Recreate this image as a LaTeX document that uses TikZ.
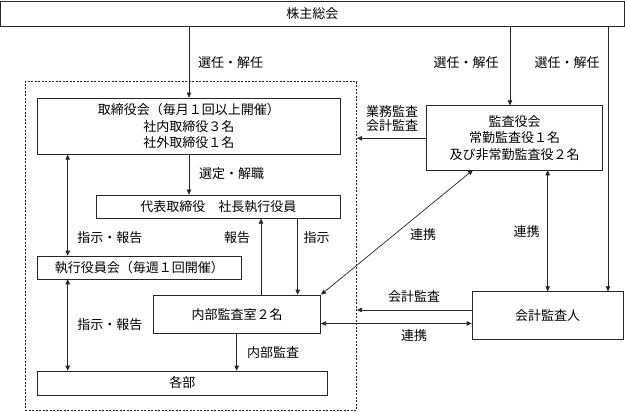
\documentclass[tikz,border=0pt]{standalone}
\usepackage{fontspec}
\setmainfont{Noto Sans CJK JP}
\usetikzlibrary{arrows.meta}
\tikzset{
  box/.style={draw=black!85, line width=0.7pt, inner sep=0pt, align=center, font=\fontsize{13}{16.5}\selectfont},
  lbl/.style={inner sep=0pt, align=center, font=\fontsize{13}{14.5}\selectfont},
  conn/.style={draw=black!85, line width=0.7pt},
  arr/.style={conn, -{Triangle[length=5pt,width=4.5pt]}},
  darr/.style={conn, {Triangle[length=5pt,width=4.5pt]}-{Triangle[length=5pt,width=4.5pt]}},
  grpbox/.style={draw=black!85, line width=0.6pt, dash pattern=on 2pt off 1.5pt, inner sep=0pt}
}
\begin{document}
\begin{tikzpicture}[x=1pt,y=-1pt]
\useasboundingbox (0,0) rectangle (625,412);
% group
\node[grpbox, minimum width=331.7pt, minimum height=328.3pt] (grp) at (190.85,245.85) {};
% boxes
\node[box, minimum width=623.5pt, minimum height=25pt] (top) at (312.25,13.5) {株主総会};
\node[box, minimum width=303.7pt, minimum height=56.3pt] (tori) at (188.85,126.15) {取締役会（毎月１回以上開催）\\社内取締役３名\\社外取締役１名};
\node[box, minimum width=176pt, minimum height=64.3pt] (kansa) at (514.7,137.85) {監査役会\\常勤監査役１名\\及び非常勤監査役２名};
\node[box, minimum width=243.3pt, minimum height=23.3pt] (daihyo) at (218.35,206.65) {代表取締役　社長執行役員};
\node[box, minimum width=203.3pt, minimum height=23pt] (shikko) at (139.35,267.5) {執行役員会（毎週１回開催）};
\node[box, minimum width=167.4pt, minimum height=38.3pt] (naibu) at (237,314.15) {内部監査室２名};
\node[box, minimum width=151pt, minimum height=47.3pt] (kaikei) at (547.5,315.35) {会計監査人};
\node[box, minimum width=290pt, minimum height=24pt] (kakubu) at (182.3,383) {各部};
% helper coordinates
\coordinate (x1) at (189,0);
\coordinate (x2) at (510,0);
\coordinate (x3) at (608,0);
\coordinate (x4) at (67.7,0);
\coordinate (x5) at (261,0);
\coordinate (x6) at (297.7,0);
\coordinate (x7) at (547.7,0);
\coordinate (x8) at (236.7,0);
\coordinate (y1) at (0,138.3);
\coordinate (y2) at (0,310);
\coordinate (y3) at (0,323.5);
\coordinate (d1) at (473,170);
% connectors
\draw[arr] (top.south -| x1) -- (tori.north -| x1);
\draw[arr] (top.south -| x2) -- (kansa.north -| x2);
\draw[arr] (top.south -| x3) -- (kaikei.north -| x3);
\draw[arr] (kansa.west |- y1) -- (grp.east |- y1);
\draw[arr] (tori.south -| x1) -- (daihyo.north -| x1);
\draw[darr] (tori.south -| x4) -- (shikko.north -| x4);
\draw[darr] (shikko.south -| x4) -- (kakubu.north -| x4);
\draw[arr] (naibu.north -| x5) -- (daihyo.south -| x5);
\draw[arr] (daihyo.south -| x6) -- (naibu.north -| x6);
\draw[darr] (naibu.north east) -- (d1);
\draw[darr] (kansa.south -| x7) -- (kaikei.north -| x7);
\draw[arr] (kaikei.west |- y2) -- (grp.east |- y2);
\draw[darr] (naibu.east |- y3) -- (kaikei.west |- y3);
\draw[arr] (naibu.south -| x8) -- (kakubu.north -| x8);
% labels
\node[lbl] (l1) at (230.5,62.3) {選任・解任};
\node[lbl] (l2) at (466,62.3) {選任・解任};
\node[lbl] (l3) at (567,62.3) {選任・解任};
\node[lbl] (l4) at (392,118.5) {業務監査\\会計監査};
\node[lbl] (l6) at (231.5,173.3) {選定・解職};
\node[lbl] (l7) at (110,238) {指示・報告};
\node[lbl] (l8) at (237,238) {報告};
\node[lbl] (l9) at (316.7,238) {指示};
\node[lbl] (l10) at (423,235) {連携};
\node[lbl] (l11) at (526.7,231.7) {連携};
\node[lbl] (l12) at (414,296.7) {会計監査};
\node[lbl] (l13) at (414,335.7) {連携};
\node[lbl] (l14) at (110,325) {指示・報告};
\node[lbl] (l15) at (273,352.7) {内部監査};
\end{tikzpicture}
\end{document}
